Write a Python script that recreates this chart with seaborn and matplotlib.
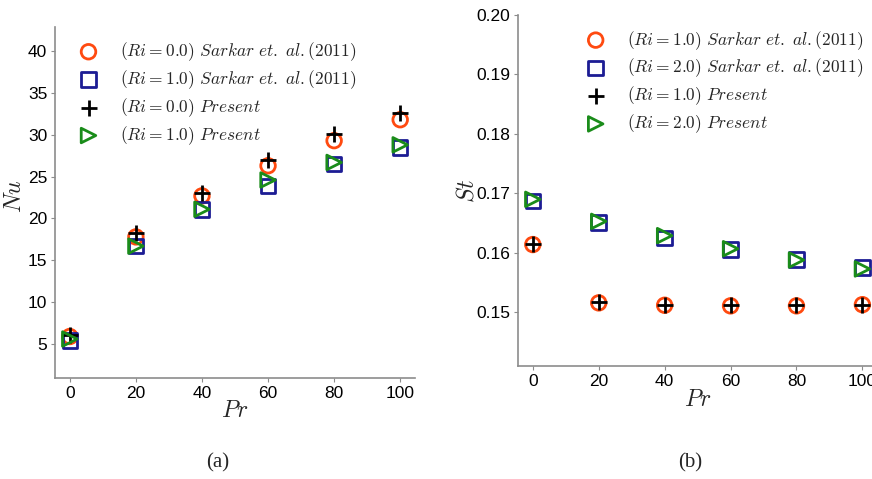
import matplotlib
matplotlib.use("Agg")
import matplotlib.pyplot as plt
import seaborn as sns
import pandas as pd

sns.set_theme(style="white")
plt.rcParams["font.family"] = ["Liberation Sans", "DejaVu Sans"]
plt.rcParams["mathtext.fontset"] = "cm"

# Prandtl numbers
pr = [0, 20, 40, 60, 80, 100]

# (a) mean Nusselt number
nu_sarkar_ri0 = [5.9, 17.8, 22.7, 26.3, 29.3, 31.8]
nu_sarkar_ri1 = [5.4, 16.7, 21.1, 23.9, 26.5, 28.5]
nu_present_ri0 = [6.1, 18.3, 23.1, 27.0, 30.1, 32.6]
nu_present_ri1 = [5.6, 16.7, 21.1, 24.6, 26.7, 28.8]

# (b) Strouhal number
st_sarkar_ri1 = [0.1614, 0.1516, 0.1512, 0.1511, 0.1511, 0.1513]
st_sarkar_ri2 = [0.1687, 0.1651, 0.1625, 0.1606, 0.1589, 0.1575]
st_present_ri1 = [0.1615, 0.1518, 0.1513, 0.1512, 0.1512, 0.1513]
st_present_ri2 = [0.1690, 0.1653, 0.1629, 0.1607, 0.1588, 0.1573]

labels_a = [r"$(Ri=0.0)\ Sarkar\ et.\ al.(2011)$",
            r"$(Ri=1.0)\ Sarkar\ et.\ al.(2011)$",
            r"$(Ri=0.0)\ Present$",
            r"$(Ri=1.0)\ Present$"]
labels_b = [r"$(Ri=1.0)\ Sarkar\ et.\ al.(2011)$",
            r"$(Ri=2.0)\ Sarkar\ et.\ al.(2011)$",
            r"$(Ri=1.0)\ Present$",
            r"$(Ri=2.0)\ Present$"]

colors = ["#ff4a10", "#1c1c94", "#000000", "#1a8c1a"]
markers = ["o", "s", "+", ">"]
sizes = [110, 110, 130, 110]

fig = plt.figure(figsize=(8.72, 4.79), dpi=100)
ax_a = fig.add_axes([0.063, 0.211, 0.413, 0.733])
ax_b = fig.add_axes([0.594, 0.236, 0.412, 0.733])


def draw(ax, series, labels):
    for y, lab, c, m, s in zip(series, labels, colors, markers, sizes):
        df = pd.DataFrame({"Pr": pr, "val": y})
        if m == "+":
            sns.scatterplot(data=df, x="Pr", y="val", ax=ax, marker=m, s=s,
                            color=c, linewidth=2, label=lab, zorder=3)
        else:
            sns.scatterplot(data=df, x="Pr", y="val", ax=ax, marker=m, s=s,
                            facecolor="none", edgecolor=c, linewidth=2,
                            label=lab, zorder=3)
    for side in ["top", "right"]:
        ax.spines[side].set_visible(False)
    for side in ["left", "bottom"]:
        ax.spines[side].set_color("#8c8c8c")
        ax.spines[side].set_linewidth(1.2)
    ax.tick_params(axis="both", which="major", direction="out", length=3,
                   width=0.8, color="#8c8c8c", labelsize=12.5,
                   labelcolor="black", bottom=True, left=True, pad=2.5)
    ax.set_xticks(pr)
    ax.set_xlim(-4.5, 104.5)


legend_kw = dict(loc="upper left", frameon=False, fontsize=12.5,
                 handlelength=1.2, handletextpad=1.2, labelspacing=0.3,
                 borderaxespad=0)

draw(ax_a, [nu_sarkar_ri0, nu_sarkar_ri1, nu_present_ri0, nu_present_ri1], labels_a)
ax_a.set_ylim(0.95, 42.9)
ax_a.set_yticks([5, 10, 15, 20, 25, 30, 35, 40])
ax_a.set_xlabel(r"$Pr$", fontsize=17)
ax_a.set_ylabel(r"$\overline{Nu}$", fontsize=17)
ax_a.xaxis.set_label_coords(0.5, -0.063)
ax_a.yaxis.set_label_coords(-0.077, 0.52)
ax_a.legend(bbox_to_anchor=(0.045, 0.981), **legend_kw)

draw(ax_b, [st_sarkar_ri1, st_sarkar_ri2, st_present_ri1, st_present_ri2], labels_b)
ax_b.set_ylim(0.141, 0.2)
ax_b.set_yticks([0.15, 0.16, 0.17, 0.18, 0.19, 0.20])
ax_b.set_yticklabels(["0.15", "0.16", "0.17", "0.18", "0.19", "0.20"])
ax_b.set_xlabel(r"$Pr$", fontsize=17)
ax_b.set_ylabel(r"$St$", fontsize=17)
ax_b.xaxis.set_label_coords(0.5, -0.066)
ax_b.yaxis.set_label_coords(-0.11, 0.5)
ax_b.legend(bbox_to_anchor=(0.168, 0.98), **legend_kw)

fig.text(0.25, 0.033, "(a)", ha="center", va="center", fontsize=15,
         family=["Liberation Serif", "DejaVu Serif"])
fig.text(0.791, 0.033, "(b)", ha="center", va="center", fontsize=15,
         family=["Liberation Serif", "DejaVu Serif"])

fig.savefig("out.png", dpi=100)
